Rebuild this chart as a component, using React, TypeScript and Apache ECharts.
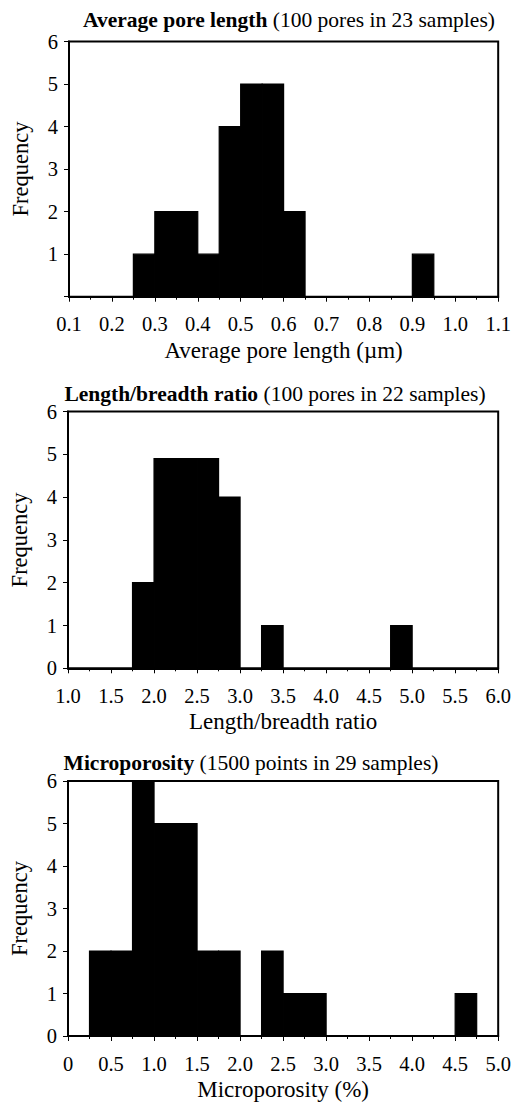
import React, { useEffect, useRef } from "react";
import * as echarts from "echarts";

const FONT = "'Liberation Serif', 'Times New Roman', serif";

// Chart 1: Average pore length
const poreLengthBinStarts = [0.25, 0.3, 0.35, 0.4, 0.45, 0.5, 0.55, 0.6, 0.9];
const poreLengthCounts = [1, 2, 2, 1, 4, 5, 5, 2, 1];
const poreLengthBinWidth = 0.05;

// Chart 2: Length/breadth ratio
const ratioBinStarts = [1.75, 2.0, 2.25, 2.5, 2.75, 3.25, 4.75];
const ratioCounts = [2, 4.9, 4.9, 4.9, 4, 1, 1];
const ratioBinWidth = 0.25;

// Chart 3: Microporosity
const microBinStarts = [0.25, 0.5, 0.75, 1.0, 1.25, 1.5, 1.75, 2.25, 2.5, 2.75, 4.5];
const microCounts = [2, 2, 6, 5, 5, 2, 2, 2, 1, 1, 1];
const microBinWidth = 0.25;

const titles = [
  { bold: "Average pore length", rest: " (100 pores in 23 samples)" },
  { bold: "Length/breadth ratio", rest: " (100 pores in 22 samples)" },
  { bold: "Microporosity", rest: " (1500 points in 29 samples)" },
];
const xAxisNames = ["Average pore length (\u00b5m)", "Length/breadth ratio", "Microporosity (%)"];
const yAxisName = "Frequency";

const toBins = (starts: number[], counts: number[], w: number) =>
  starts.map((s, i) => [s, +(s + w).toFixed(4), counts[i]]);

export default function App() {
  const ref = useRef<HTMLDivElement>(null);
  useEffect(() => {
    if (!ref.current) return;
    const chart = echarts.init(ref.current, null, { renderer: "svg" });

    const grids = [
      { left: 69, top: 41.5, width: 433, height: 255.2 },
      { left: 65.5, top: 411.5, width: 433.5, height: 256.8 },
      { left: 63.5, top: 781, width: 435.5, height: 256.7 },
    ];

    const xCfg = [
      { min: 0.1, max: 1.1, interval: 0.1, fmt: (v: number) => v.toFixed(1) },
      { min: 1, max: 6, interval: 0.5, fmt: (v: number) => v.toFixed(1) },
      { min: 0, max: 5, interval: 0.5, fmt: (v: number) => (v === 0 ? "0" : v.toFixed(1)) },
    ];

    const xAxis = xCfg.map((c, i) => ({
      gridIndex: i,
      type: "value",
      min: c.min,
      max: c.max,
      interval: c.interval,
      name: xAxisNames[i],
      nameLocation: "middle",
      nameGap: 42,
      nameTextStyle: { fontSize: 23, fontFamily: FONT, color: "#000" },
      axisLine: { show: true, onZero: false, lineStyle: { color: "#000", width: 2 } },
      axisTick: { show: true, inside: false, length: 5, lineStyle: { color: "#000", width: 1 } },
      minorTick: { show: true, splitNumber: 2, length: 3, lineStyle: { color: "#000", width: 1 } },
      axisLabel: { margin: 17, fontSize: 20.5, fontFamily: FONT, color: "#000", formatter: c.fmt },
      splitLine: { show: false },
    }));

    const yAxis = [0, 1, 2].map((i) => ({
      gridIndex: i,
      type: "value",
      min: 0,
      max: 6,
      interval: 1,
      name: yAxisName,
      nameLocation: "middle",
      nameGap: 37,
      nameTextStyle: { fontSize: 22.5, fontFamily: FONT, color: "#000" },
      axisLine: { show: true, onZero: false, lineStyle: { color: "#000", width: 2 } },
      axisTick: { show: true, inside: false, length: 5, lineStyle: { color: "#000", width: 1 } },
      axisLabel: {
        margin: 11,
        fontSize: 20.5,
        fontFamily: FONT,
        color: "#000",
        formatter: (v: number) => (i === 0 && v === 0 ? "" : String(v)),
      },
      splitLine: { show: false },
    }));

    const datasets = [
      toBins(poreLengthBinStarts, poreLengthCounts, poreLengthBinWidth),
      toBins(ratioBinStarts, ratioCounts, ratioBinWidth),
      toBins(microBinStarts, microCounts, microBinWidth),
    ];

    const series = datasets.map((d, i) => ({
      type: "custom",
      xAxisIndex: i,
      yAxisIndex: i,
      data: d,
      encode: { x: [0, 1], y: 2 },
      renderItem: (params: any, api: any) => {
        const p0 = api.coord([api.value(0), 0]);
        const p1 = api.coord([api.value(1), api.value(2)]);
        return {
          type: "rect",
          shape: { x: p0[0], y: p1[1], width: p1[0] - p0[0], height: p0[1] - p1[1] },
          style: { fill: "#000", stroke: "#000", lineWidth: 1.2 },
        };
      },
    }));

    const titlePos = [
      { x: 289, y: 20 },
      { x: 275, y: 394 },
      { x: 251, y: 763 },
    ];

    const graphic = titles.map((t, i) => ({
      type: "text",
      x: titlePos[i].x,
      y: titlePos[i].y,
      style: {
        text: `{b|${t.bold}}${t.rest}`,
        fontSize: 21.5,
        fontFamily: FONT,
        fill: "#000",
        align: "center",
        verticalAlign: "middle",
        rich: {
          b: { fontWeight: "bold", fontSize: 21.5, fontFamily: FONT, fill: "#000" },
        },
      },
    }));

    chart.setOption({
      animation: false,
      backgroundColor: "#fff",
      grid: grids.map((g) => ({ ...g, show: true, borderColor: "#000", borderWidth: 2, backgroundColor: "transparent" })),
      xAxis,
      yAxis,
      series,
      graphic,
    } as any);

    return () => chart.dispose();
  }, []);

  return (
    <div
      ref={ref}
      style={{ position: "fixed", left: 0, top: 0, width: 514, height: 1102, background: "#fff" }}
    />
  );
}
